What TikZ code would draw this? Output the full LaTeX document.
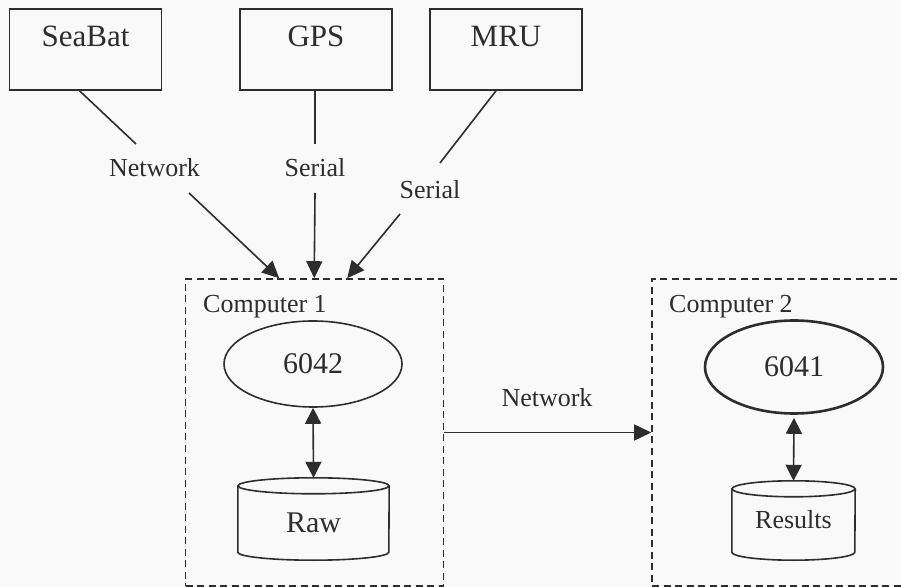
\documentclass[tikz,border=0pt]{standalone}
\usepackage{fontspec}
\setmainfont{Liberation Serif}
\usetikzlibrary{arrows.meta,calc,shapes.geometric}
\definecolor{ink}{RGB}{45,45,45}
\definecolor{paper}{RGB}{249,249,249}
\begin{document}
\begin{tikzpicture}[x=1pt,y=1pt,
  every node/.style={text=ink},
  line/.style={draw=ink,line width=1.6pt},
  arr/.style={line,-{Triangle[length=17pt,width=16pt]}},
  darr/.style={line,{Triangle[length=16pt,width=16pt]}-{Triangle[length=16pt,width=16pt]}},
  devbox/.style={draw=ink,line width=1.6pt,rectangle,inner sep=0pt,minimum width=152pt,text height=38pt,text depth=43pt,font=\fontsize{31}{31}\selectfont},
  lbl/.style={font=\fontsize{26}{26}\selectfont,inner sep=0pt},
  proc/.style={draw=ink,ellipse,line width=1.6pt,minimum width=178pt,inner sep=0pt,font=\fontsize{30}{30}\selectfont},
  frame/.style={draw=ink,line width=1.6pt,dash pattern=on 7pt off 4.5pt,rectangle,inner sep=0pt},
  store/.style={rectangle,inner sep=0pt}
]
\fill[paper] (0,0) rectangle (901,586);
\useasboundingbox (0,0) rectangle (901,586);
\clip (0,0) rectangle (901,586);

% devices
\node[devbox] (seabat) at (85.5,536.5) {SeaBat};
\node[devbox] (gps) at (316,536.5) {GPS};
\node[devbox] (mru) at (506,536.5) {MRU};

% computer frames
\node[frame,minimum width=258pt,minimum height=307pt] (c1) at (314.5,153.5) {};
\node[frame,minimum width=268pt,minimum height=307pt] (c2) at (786,153.5) {};
\node[lbl,anchor=base west] (c1lbl) at (203,273) {Computer 1};
\node[lbl,anchor=base west] (c2lbl) at (669,273) {Computer 2};

% link labels
\node[lbl] (net1) at (154.5,418) {Network};
\node[lbl] (ser1) at (315,418) {Serial};
\node[lbl] (ser2) at (430,396) {Serial};
\node[lbl] (net2) at (547,188) {Network};

% device connectors
\draw[line] ($(seabat.south)+(-6,0)$) -- ($(net1)+(-18.5,24)$);
\draw[arr] ($(net1)+(34.5,-25)$) -- ($(c1.north west)+(94.5,0)$);
\draw[line] ($(gps.south)+(-1,0)$) -- ($(ser1)+(0,24)$);
\draw[arr] ($(ser1)+(0,-25)$) -- ($(c1.north west)+(129.5,0)$);
\draw[line] ($(mru.south)+(-10,0)$) -- ($(ser2)+(10,27)$);
\draw[arr] ($(ser2)+(-30,-24)$) -- ($(c1.north west)+(162.5,0)$);

% computer 1
\node[proc,minimum height=86pt] (p6042) at (313,222) {6042};
\node[store,minimum width=151pt,text height=54pt,text depth=28pt,font=\fontsize{30}{30}\selectfont] (raw) at (313.5,67) {Raw};
\draw[line] ([yshift=-8pt]raw.north west) -- ([yshift=8pt]raw.south west)
  arc[start angle=180,end angle=360,x radius=75.5pt,y radius=8pt] -- ([yshift=-8pt]raw.north east);
\draw[line] ([yshift=-8pt]raw.north) ellipse[x radius=75.5pt,y radius=8pt];
\draw[darr] (p6042.south) -- (raw.north);

% network link
\draw[arr] (c1.east) -- (c2.west);

% computer 2
\node[proc,minimum height=93pt,line width=2.6pt] (p6041) at (794,219) {6041};
\node[store,minimum width=123pt,text height=47pt,text depth=32pt,font=\fontsize{26}{26}\selectfont] (res) at (793.5,65.5) {Results};
\draw[line] ([yshift=-8pt]res.north west) -- ([yshift=8pt]res.south west)
  arc[start angle=180,end angle=360,x radius=61.5pt,y radius=8pt] -- ([yshift=-8pt]res.north east);
\draw[line] ([yshift=-8pt]res.north) ellipse[x radius=61.5pt,y radius=8pt];
\draw[darr] ([yshift=-3pt]p6041.south) -- (res.north);
\end{tikzpicture}
\end{document}
